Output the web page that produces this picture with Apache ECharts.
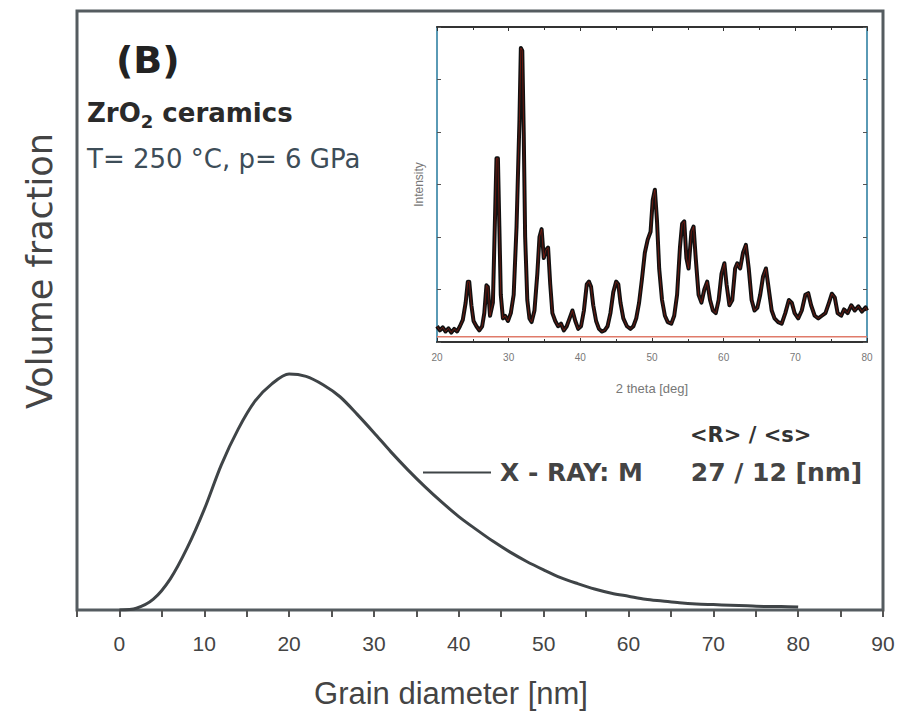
<!DOCTYPE html>
<html>
<head>
<meta charset="utf-8">
<script src="https://cdn.jsdelivr.net/npm/echarts@6/dist/echarts.min.js"></script>
<style>
  html, body { margin: 0; padding: 0; background: #fff; }
  #main { width: 905px; height: 722px; }
</style>
</head>
<body>
<div id="main"></div>
<script>
// grain size distribution (x in nm, volume fraction in arbitrary units)
var grainX = [0, 2, 4, 6, 8, 10, 12, 14, 16, 18, 20, 22, 24, 26, 28, 30, 32, 34, 36, 38, 40,
  42, 44, 46, 48, 50, 52, 54, 56, 58, 60, 62, 64, 66, 68, 70, 72, 74, 76, 78, 80];
var volFrac = [0, 0.003, 0.018, 0.052, 0.104, 0.168, 0.242, 0.302, 0.349, 0.378, 0.394, 0.390,
  0.376, 0.356, 0.327, 0.296, 0.264, 0.234, 0.206, 0.180, 0.156, 0.135, 0.115, 0.097, 0.081,
  0.067, 0.054, 0.044, 0.035, 0.028, 0.023, 0.018, 0.015, 0.012, 0.010, 0.009, 0.008, 0.007,
  0.006, 0.006, 0.005];
var xTicks = [0, 10, 20, 30, 40, 50, 60, 70, 80, 90];

// inset: XRD pattern (2 theta in deg, intensity arbitrary)
var xrd = [[20.0,0.30],[20.4,0.22],[20.8,0.28],[21.2,0.2],[21.6,0.26],[22.0,0.18],[22.4,0.25],[22.8,0.2],
  [23.2,0.3],[23.6,0.42],[24.0,0.75],[24.3,1.15],[24.5,1.15],[24.8,0.7],[25.1,0.4],[25.5,0.3],[25.9,0.22],
  [26.3,0.3],[26.6,0.55],[26.9,1.08],[27.1,1.05],[27.4,0.5],[27.8,0.75],[28.1,2.4],[28.3,3.5],[28.5,3.5],
  [28.7,2.2],[28.9,0.9],[29.2,0.45],[29.5,0.5],[29.9,0.4],[30.3,0.55],[30.7,0.9],[31.1,2.2],[31.5,4.2],
  [31.7,5.6],[31.9,5.55],[32.1,4.0],[32.3,2.0],[32.6,0.8],[32.9,0.45],[33.2,0.38],[33.6,0.6],[34.0,1.3],
  [34.3,2.0],[34.6,2.15],[34.9,1.6],[35.2,1.75],[35.5,1.8],[35.8,1.1],[36.1,0.55],[36.5,0.4],[36.9,0.3],
  [37.3,0.35],[37.7,0.22],[38.1,0.3],[38.5,0.45],[38.9,0.6],[39.3,0.4],[39.7,0.25],[40.1,0.3],[40.5,0.6],
  [40.9,1.1],[41.2,1.15],[41.5,1.05],[41.8,0.7],[42.2,0.4],[42.6,0.25],[43.0,0.2],[43.4,0.22],[43.8,0.3],
  [44.2,0.55],[44.6,0.95],[45.0,1.15],[45.3,1.1],[45.6,0.75],[46.0,0.45],[46.5,0.3],[47.0,0.25],[47.4,0.3],
  [47.8,0.45],[48.2,0.75],[48.6,1.2],[49.0,1.7],[49.4,1.95],[49.8,2.1],[50.1,2.7],[50.4,2.9],[50.7,2.3],
  [51.0,1.4],[51.4,0.8],[51.8,0.5],[52.2,0.38],[52.7,0.35],[53.1,0.5],[53.5,0.9],[53.9,1.8],[54.2,2.25],
  [54.5,2.3],[54.8,1.6],[55.1,1.4],[55.5,2.1],[55.8,2.2],[56.1,1.6],[56.5,0.9],[56.9,0.75],[57.3,1.0],
  [57.7,1.15],[58.1,0.8],[58.5,0.6],[58.9,0.55],[59.3,0.8],[59.7,1.3],[60.1,1.5],[60.4,1.1],[60.8,0.7],
  [61.2,0.8],[61.6,1.4],[61.9,1.5],[62.3,1.4],[62.7,1.7],[63.1,1.85],[63.5,1.4],[63.9,0.8],[64.3,0.6],
  [64.7,0.65],[65.1,0.9],[65.5,1.25],[65.9,1.4],[66.3,1.0],[66.7,0.6],[67.1,0.45],[67.6,0.38],[68.1,0.35],
  [68.6,0.55],[69.1,0.8],[69.5,0.75],[69.9,0.55],[70.4,0.45],[70.9,0.6],[71.4,0.9],[71.8,0.93],[72.2,0.7],
  [72.7,0.5],[73.2,0.45],[73.7,0.5],[74.2,0.55],[74.7,0.75],[75.1,0.92],[75.5,0.85],[75.9,0.55],[76.4,0.5],
  [76.8,0.62],[77.3,0.55],[77.8,0.7],[78.3,0.6],[78.8,0.68],[79.3,0.58],[79.8,0.66],[80.0,0.6]];
var xrdBackground = [[20, 0.1], [80, 0.1]];

var font = "'Liberation Sans', Arial, sans-serif";
var wide = "'DejaVu Sans', sans-serif";

var chart = echarts.init(document.getElementById("main"), null, { renderer: "svg" });

var option = {
  textStyle: { fontFamily: font },
  animation: false,
  grid: [
    { left: 77, right: 22, top: 11, bottom: 112, show: true, borderColor: "#555c60", borderWidth: 3, backgroundColor: "#fff" },
    { left: 437, right: 38, top: 27, bottom: 380 }
  ],
  xAxis: [
    {
      gridIndex: 0, type: "value", min: -5, max: 90, interval: 5,
      axisLine: { show: false },
      axisTick: { show: true, length: 7, inside: false, lineStyle: { color: "#555", width: 2 } },
      axisLabel: {
        fontSize: 21, color: "#444", margin: 23,
        formatter: function (v) { return xTicks.indexOf(v) >= 0 ? String(v) : ""; }
      },
      splitLine: { show: false }
    },
    {
      gridIndex: 1, type: "value", min: 20, max: 80, interval: 10, position: "bottom",
      axisLine: { show: true, onZero: false, lineStyle: { color: "#333", width: 2 } },
      axisTick: { inside: true, length: 4, lineStyle: { color: "#333" } },
      minorTick: { show: true, splitNumber: 2, length: 3, lineStyle: { color: "#333" } },
      axisLabel: { fontSize: 10, color: "#777", margin: 10 },
      splitLine: { show: false },
      name: "2 theta [deg]", nameLocation: "middle", nameGap: 40,
      nameTextStyle: { fontSize: 13, color: "#777" }
    },
    {
      gridIndex: 1, type: "value", min: 20, max: 80, interval: 10, position: "top",
      axisLine: { show: true, onZero: false, lineStyle: { color: "#333", width: 2 } },
      axisTick: { inside: true, length: 4, lineStyle: { color: "#333" } },
      minorTick: { show: true, splitNumber: 2, length: 3, lineStyle: { color: "#333" } },
      axisLabel: { show: false },
      splitLine: { show: false }
    }
  ],
  yAxis: [
    {
      gridIndex: 0, type: "value", min: 0, max: 1,
      axisLine: { show: false }, axisTick: { show: false }, axisLabel: { show: false },
      splitLine: { show: false }
    },
    {
      gridIndex: 1, type: "value", min: 0, max: 6, interval: 1, position: "left",
      axisLine: { show: true, onZero: false, lineStyle: { color: "#5a9ab5", width: 2 } },
      axisTick: { inside: true, length: 4, lineStyle: { color: "#555" } },
      axisLabel: { show: false },
      splitLine: { show: false },
      name: "Intensity", nameLocation: "middle", nameGap: 12, nameRotate: 90,
      nameTextStyle: { fontSize: 12, color: "#777" }
    },
    {
      gridIndex: 1, type: "value", min: 0, max: 6, interval: 1, position: "right",
      axisLine: { show: true, onZero: false, lineStyle: { color: "#5a9ab5", width: 2 } },
      axisTick: { inside: true, length: 4, lineStyle: { color: "#555" } },
      axisLabel: { show: false },
      splitLine: { show: false }
    }
  ],
  legend: {
    left: 418, top: 455,
    icon: "rect", itemWidth: 68, itemHeight: 2,
    data: ["X - RAY: M"],
    formatter: function (name) { return "{a|" + name + "}{b|27 / 12 [nm]}"; },
    textStyle: {
      rich: {
        a: { fontSize: 25, fontWeight: "bold", color: "#444", fontFamily: wide, padding: [0, 0, 0, 4] },
        b: { fontSize: 25, fontWeight: "bold", color: "#444", fontFamily: wide, padding: [0, 0, 0, 48] }
      }
    }
  },
  series: [
    {
      name: "X - RAY: M", type: "line", xAxisIndex: 0, yAxisIndex: 0,
      data: grainX.map(function (x, i) { return [x, volFrac[i]]; }),
      smooth: 0.3, symbol: "none",
      lineStyle: { color: "#3f4447", width: 3 },
      itemStyle: { color: "#3f4447" }
    },
    {
      name: "background", type: "line", xAxisIndex: 1, yAxisIndex: 1,
      data: xrdBackground, symbol: "none",
      lineStyle: { color: "#e07b6a", width: 1.5 }
    },
    {
      name: "data", type: "line", xAxisIndex: 1, yAxisIndex: 1,
      data: xrd, symbol: "none",
      lineStyle: { color: "#111", width: 4, join: "round" }
    },
    {
      name: "fit", type: "line", xAxisIndex: 1, yAxisIndex: 1,
      data: xrd, symbol: "none",
      lineStyle: { color: "#a02010", width: 1, opacity: 0.6 }
    }
  ],
  graphic: [
    { type: "text", left: 116, top: 41, style: { text: "(B)", font: "bold 38px " + wide, fill: "#222" } },
    {
      type: "text", left: 87, top: 100,
      style: {
        text: "{a|ZrO}{s|2}{a| ceramics}",
        rich: {
          a: { font: "bold 26px " + wide, fill: "#2a2a2a", lineHeight: 30, verticalAlign: "top" },
          s: { font: "bold 18px " + wide, fill: "#2a2a2a", lineHeight: 30, padding: [12, 0, 0, 0], verticalAlign: "top" }
        }
      }
    },
    { type: "text", left: 87, top: 146, style: { text: "T= 250 °C, p= 6 GPa", font: "26px " + wide, fill: "#3d4d58" } },
    { type: "text", left: 690, top: 424, style: { text: "<R> / <s>", font: "bold 21px " + wide, fill: "#333" } },
    {
      type: "text", x: 40, y: 271, rotation: Math.PI / 2,
      style: { text: "Volume fraction", font: "35px " + wide, fill: "#444", align: "center", verticalAlign: "middle" }
    },
    {
      type: "text", x: 451, y: 693,
      style: { text: "Grain diameter [nm]", font: "31px " + font, fill: "#444", align: "center", verticalAlign: "middle" }
    }
  ]
};

chart.setOption(option);
</script>
</body>
</html>
